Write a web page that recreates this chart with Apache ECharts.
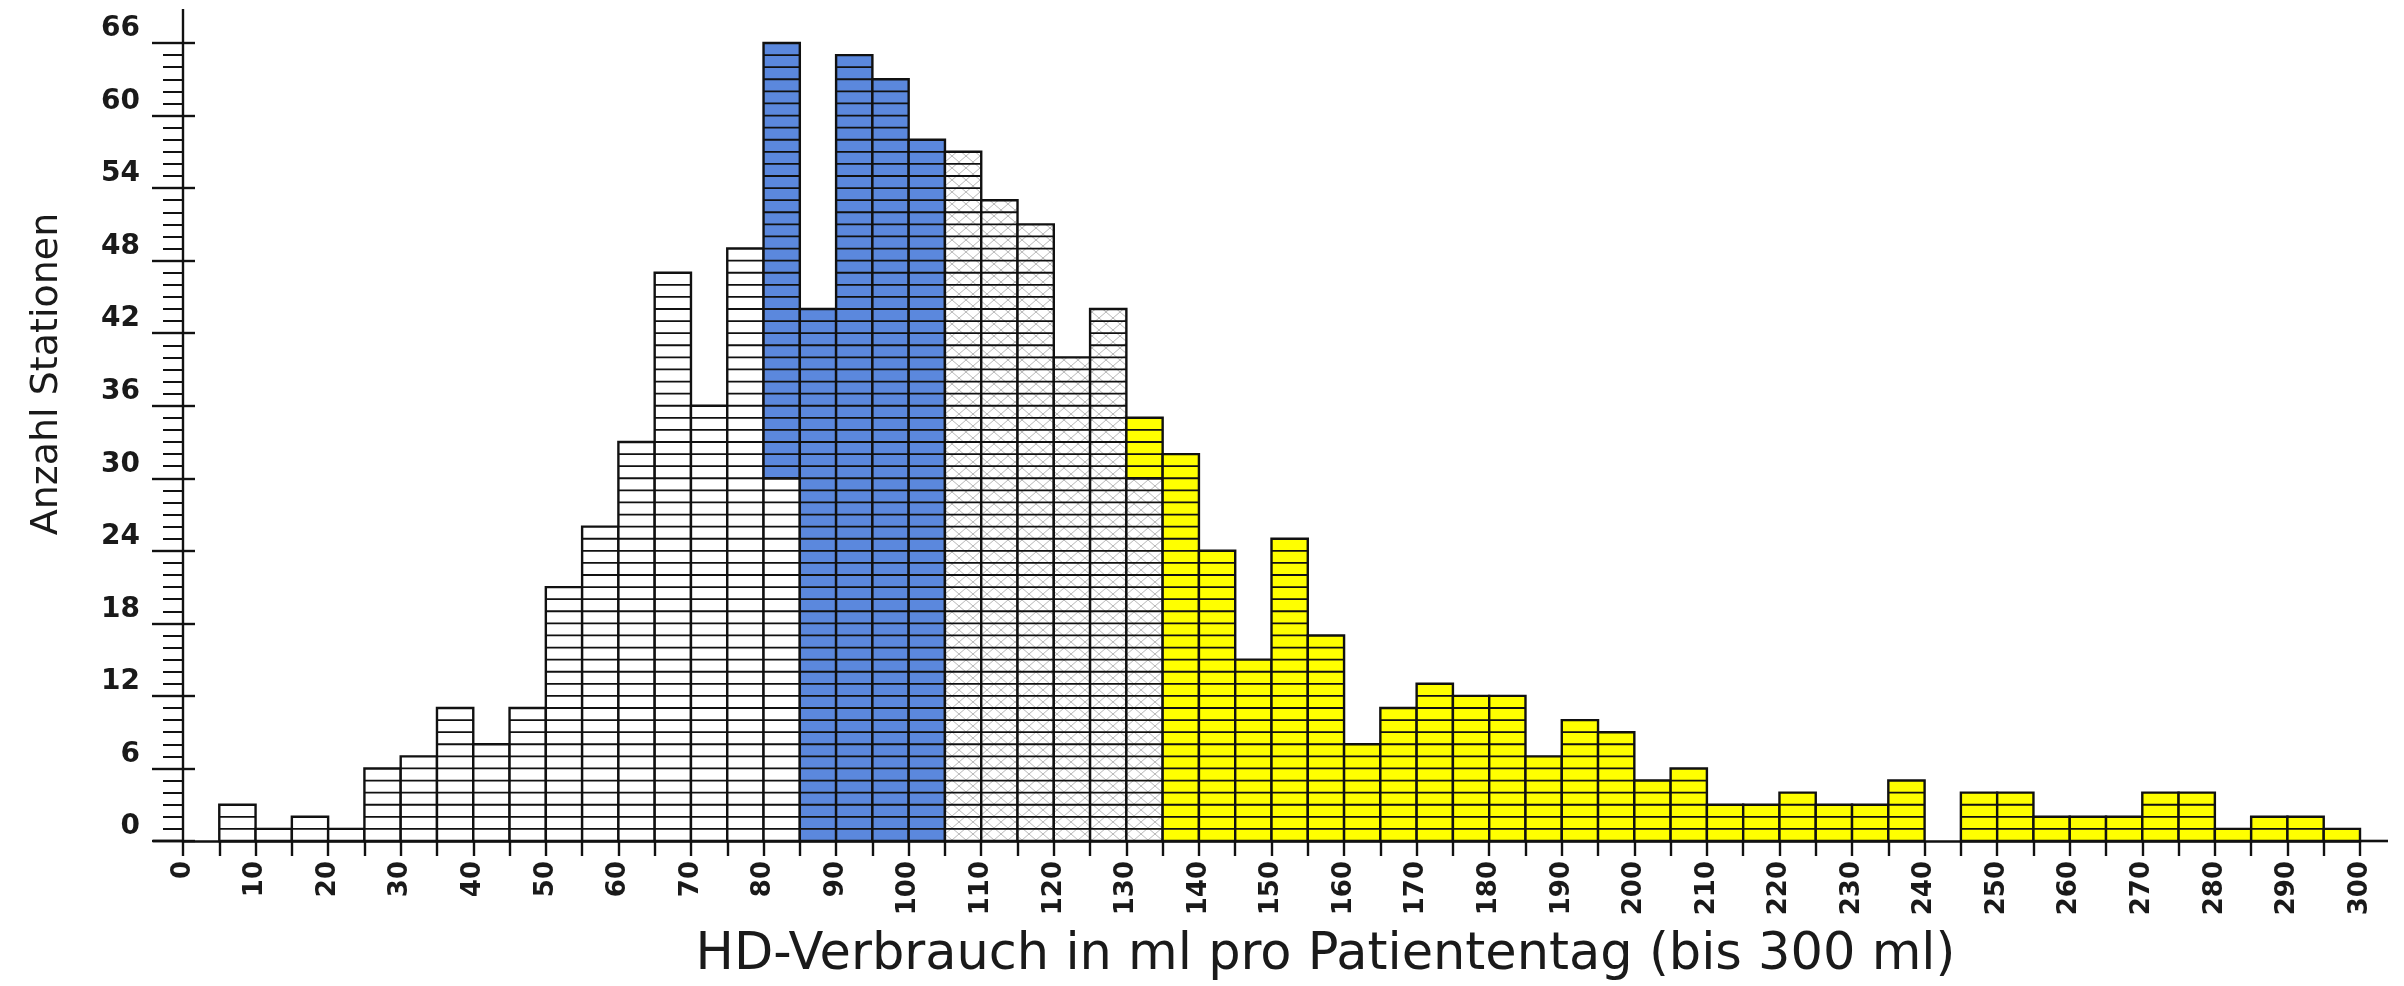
<!DOCTYPE html>
<html><head><meta charset="utf-8">
<script src="https://cdn.jsdelivr.net/npm/echarts@6/dist/echarts.min.js"></script>
<style>html,body{margin:0;padding:0;background:#fff}#c{width:2404px;height:986px}</style>
</head><body><div id="c"></div>
<script>
// ---- data (bin start in ml, bin width 5 ml; counts = Anzahl Stationen) ----
const binWidth = 5;
const whiteBins  = [5, 10, 15, 20, 25, 30, 35, 40, 45, 50, 55, 60, 65, 70, 75, 80];
const whiteBase  = [0, 0, 0, 0, 0, 0, 0, 0, 0, 0, 0, 0, 0, 0, 0, 0];
const whiteTops  = [3, 1, 2, 1, 6, 7, 11, 8, 11, 21, 26, 33, 47, 36, 49, 30];

const blueBins   = [80, 85, 90, 95, 100];
const blueBase   = [30, 0, 0, 0, 0];
const blueTops   = [66, 44, 65, 63, 58];

const hatchBins  = [105, 110, 115, 120, 125, 130];
const hatchBase  = [0, 0, 0, 0, 0, 0];
const hatchTops  = [57, 53, 51, 40, 44, 30];

const yellowBins = [130, 135, 140, 145, 150, 155, 160, 165, 170, 175, 180, 185, 190, 195, 200, 205, 210,
                    215, 220, 225, 230, 235, 240, 245, 250, 255, 260, 265, 270, 275, 280, 285, 290, 295];
const yellowBase = [30, 0, 0, 0, 0, 0, 0, 0, 0, 0, 0, 0, 0, 0, 0, 0, 0,
                    0, 0, 0, 0, 0, 0, 0, 0, 0, 0, 0, 0, 0, 0, 0, 0, 0];
const yellowTops = [35, 32, 24, 15, 25, 17, 8, 11, 13, 12, 12, 7, 10, 9, 5, 6, 3,
                    3, 4, 3, 3, 5, 0, 4, 4, 2, 2, 2, 4, 4, 1, 2, 2, 1];

const xMin = 0, xMax = 300, xStep = 10;
const yMin = 0, yMax = 66, yStep = 6;
const xTitle = 'HD-Verbrauch in ml pro Patiententag (bis 300 ml)';
const yTitle = 'Anzahl Stationen';

// ---- styling ----
const FONT = 'DejaVu Sans';
function hatchCanvas() {
  const c = document.createElement('canvas'); c.width = 14; c.height = 12;
  const g = c.getContext('2d');
  g.fillStyle = '#ffffff'; g.fillRect(0, 0, 14, 12);
  g.strokeStyle = '#b8b8b8'; g.lineWidth = 1;
  g.beginPath(); g.moveTo(0, 0); g.lineTo(14, 12); g.moveTo(14, 0); g.lineTo(0, 12); g.stroke();
  return c;
}
const hatchFill = { image: hatchCanvas(), repeat: 'repeat' };

function makeSeries(name, starts, bases, tops, fill) {
  const data = starts.map((s, i) => [s, bases[i], tops[i]]);
  return {
    type: 'custom', name, data, encode: { x: 0, y: [1, 2] }, clip: false,
    renderItem: (params, api) => {
      const x0 = api.value(0), b = api.value(1), t = api.value(2);
      if (t <= b) return null;
      const p1 = api.coord([x0, t]), p2 = api.coord([x0 + binWidth, b]);
      const children = [{
        type: 'rect',
        shape: { x: p1[0], y: p1[1], width: p2[0] - p1[0], height: p2[1] - p1[1] },
        style: { fill: fill, stroke: '#111', lineWidth: 2.4 }
      }];
      for (let v = b + 1; v < t; v++) {
        const a = api.coord([x0, v]), c = api.coord([x0 + binWidth, v]);
        children.push({ type: 'line', shape: { x1: a[0], y1: a[1], x2: c[0], y2: c[1] },
          style: { stroke: '#111', lineWidth: 1.8 } });
      }
      return { type: 'group', children };
    }
  };
}

const chart = echarts.init(document.getElementById('c'), null, { renderer: 'canvas' });
const xLabelStyle = { fontFamily: FONT, fontSize: 26, fontWeight: 'bold', color: '#1a1a1a' };
const yLabelStyle = { fontFamily: FONT, fontSize: 28, fontWeight: 'bold', color: '#1a1a1a' };
chart.setOption({
  animation: false,
  backgroundColor: '#ffffff',
  grid: { left: 183, right: 44, top: 43, bottom: 141, containLabel: false },
  xAxis: {
    type: 'value', min: xMin, max: xMax, interval: xStep,
    axisLine: { show: true, lineStyle: { color: '#111', width: 2.6 } },
    axisTick: { show: true, length: 15, lineStyle: { color: '#111', width: 2.4 } },
    minorTick: { show: true, splitNumber: 2, length: 15, lineStyle: { color: '#111', width: 2.4 } },
    splitLine: { show: false }, minorSplitLine: { show: false },
    axisLabel: Object.assign({ rotate: 90, margin: 20 }, xLabelStyle),
    name: xTitle, nameLocation: 'middle', nameGap: 89,
    nameTextStyle: { fontFamily: FONT, fontSize: 51, color: '#1a1a1a', padding: [0, 0, 0, 108] }
  },
  yAxis: [{
    type: 'value', min: yMin, max: yMax, interval: yStep,
    axisLine: { show: true, lineStyle: { color: '#111', width: 2.4 } },
    axisTick: { show: true, length: 31, lineStyle: { color: '#111', width: 2.4 } },
    minorTick: { show: true, splitNumber: 6, length: 20, lineStyle: { color: '#111', width: 2 } },
    splitLine: { show: false }, minorSplitLine: { show: false },
    axisLabel: Object.assign({ margin: 43, verticalAlign: 'bottom', lineHeight: 28 }, yLabelStyle),
    name: yTitle, nameLocation: 'middle', nameGap: 117,
    nameTextStyle: { fontFamily: FONT, fontSize: 38, color: '#1a1a1a', padding: [0, 0, 0, 136] }
  }, {
    type: 'value', min: yMin, max: yMax, interval: yStep, position: 'left',
    axisLine: { show: false },
    axisTick: { show: true, inside: true, length: 12, lineStyle: { color: '#111', width: 2.4 } },
    axisLabel: { show: false }, splitLine: { show: false }
  }],
  series: [
    makeSeries('white', whiteBins, whiteBase, whiteTops, '#ffffff'),
    makeSeries('blue', blueBins, blueBase, blueTops, '#5b88dd'),
    makeSeries('hatch', hatchBins, hatchBase, hatchTops, hatchFill),
    makeSeries('yellow', yellowBins, yellowBase, yellowTops, '#ffff00')
  ]
});

// extend axis lines slightly beyond the plotting range, as in the original
const o = chart.convertToPixel({ gridIndex: 0 }, [xMin, yMin]);
const xe = chart.convertToPixel({ gridIndex: 0 }, [xMax, yMin]);
const ye = chart.convertToPixel({ gridIndex: 0 }, [xMin, yMax]);
chart.setOption({
  graphic: [
    { type: 'line', shape: { x1: o[0] - 30, y1: o[1], x2: o[0], y2: o[1] }, style: { stroke: '#111', lineWidth: 2.6 } },
    { type: 'line', shape: { x1: xe[0], y1: xe[1], x2: xe[0] + 28, y2: xe[1] }, style: { stroke: '#111', lineWidth: 2.6 } },
    { type: 'line', shape: { x1: ye[0], y1: ye[1], x2: ye[0], y2: ye[1] - 34 }, style: { stroke: '#111', lineWidth: 2.4 } }
  ]
});
</script></body></html>
